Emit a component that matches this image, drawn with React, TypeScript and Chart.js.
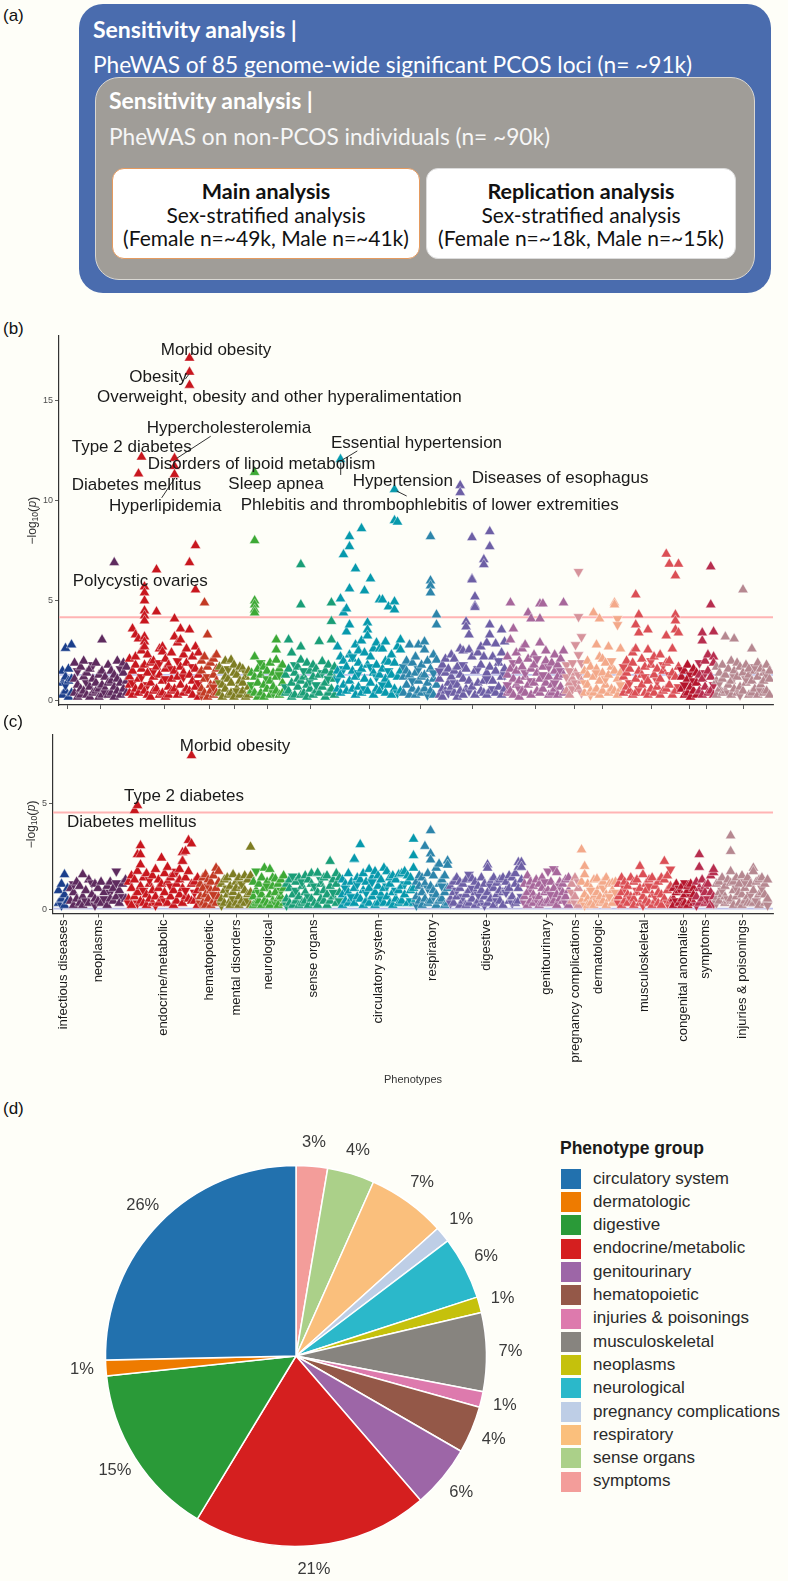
import React, { useEffect, useRef } from 'react';
import { Chart, registerables } from 'chart.js';

Chart.register(...registerables);

const FONT = '"Liberation Sans", Arial, Helvetica, sans-serif';
const BOX_FONT = 'Lato, "Open Sans", sans-serif';
const PAGE_BG = '#FEFEF8';

// ---------- Phenotype groups (Manhattan plots) ----------
const groupNames = [
  'infectious diseases', 'neoplasms', 'endocrine/metabolic', 'hematopoietic', 'mental disorders',
  'neurological', 'sense organs', 'circulatory system', 'respiratory', 'digestive', 'genitourinary',
  'pregnancy complications', 'dermatologic', 'musculoskeletal', 'congenital anomalies', 'symptoms',
  'injuries & poisonings',
];
const groupColors = [
  '#1B3F8B', '#5E2B5E', '#C8171E', '#C23A24', '#7E7D22', '#3DA935', '#1A9E77', '#0799AC', '#2D85AA',
  '#6D5FA5', '#A7679B', '#D6939B', '#F3A98A', '#DB4F55', '#B5152C', '#B72E4E', '#B68890',
];
// number of phenotypes (x-index width) per group in each analysis
const groupSizeB = [12, 55, 72, 18, 32, 34, 52, 66, 36, 68, 59, 18, 39, 58, 18, 17, 56];
const groupSizeC = [12, 58, 72, 21, 32, 33, 56, 74, 34, 74, 47, 10, 37, 55, 23, 20, 54];

// -log10(p) per phenotype (one entry per phenotype, several loci possible);
// negative value = inverse direction of effect (down-pointing triangle)
const infectiousB = [[0.3, 0.9, 1.5], [0.5, 1.2, 2.63, -0.8], [0.2, 1.0, 1.6], [0.4, 2.8, 1.1]];
const neoplasmsB = [[0.4, 1.1, 1.9], [0.2, 0.8, -1.5], [0.6, 1.7, 0.3], [1.2, 0.5, 2.0], [0.3, -0.9, 1.4], [0.7, 1.6, 0.2], [1.1, 0.4, -1.8], [0.5, 1.9, 0.9], [0.2, 1.3, 0.6], [3.05, 0.8, 1.5, 0.3], [0.6, 1.2, -0.4], [0.3, 1.8, 0.9], [1.0, 0.4, 1.5], [6.9, 0.7, 1.3, 0.2], [0.5, 2.0, 1.1], [0.9, 0.3, -1.6], [1.4, 0.6, 1.9], [0.4, 1.0, 1.7]];
const endocrineB = [[0.4, 1.2, 2.1, 0.8], [3.6, 1.5, 0.3, -0.9], [3.3, 1.8, 0.6, 2.2], [3.1, 11.33, 1.1, 0.4], [12.17, 2.5, 0.7, 1.6, -1.2], [5.7, 5.4, 5.0, 4.5, 4.25, 4.0, 3.2, 2.95, 2.7, 1.8, 0.5], [1.4, 0.3, 2.3, -0.8], [0.9, 1.9, 0.2], [1.2, 0.5, 2.0, -1.5], [6.55, 4.45, 1.7, 0.6], [0.3, 1.3, 2.6, -1.9], [2.7, 2.45, 1.0, 0.4], [1.6, 0.2, -1.1, 2.1], [0.7, 1.8, 0.3], [1.1, 2.4, 0.5, -1.6], [12.1, 11.7, 11.3, 4.1, 3.2, 1.5, 0.6], [2.9, 1.2, 0.3, -2.0], [3.6, 3.05, 1.7, 0.8], [2.3, 0.4, 1.4, -1.2], [1.9, 0.6, 2.6], [17.1, 16.4, 15.75, 6.9, 3.55, 1.3, 0.5], [1.0, 2.2, 0.3, -1.7], [7.75, 5.55, 2.7, 1.6, 0.7], [1.3, 0.2, 2.4, -0.9]];
const hematopoieticB = [[0.6, 1.5, -0.3, 2.0], [4.9, 2.2, 1.1, 0.4], [3.3, 1.7, 0.2, -1.2], [0.8, 1.9, 0.5], [1.3, 0.3, 2.1, -0.7], [2.3, 1.0, 0.4, 1.6]];
const mentalB = [[1.7, 0.4, -0.9], [0.8, 1.5, 0.2], [2.0, 0.6, 1.2], [0.3, 1.1, -1.6], [2.05, 0.9, 0.4], [1.4, 0.2, 1.8], [0.6, 1.3, -0.5], [1.0, 0.3, 1.7], [0.5, 1.6, 0.9], [1.2, 0.2, -1.4], [0.7, 1.5, 0.3]];
const neurologicalB = [[0.5, 1.4, -0.8], [11.4, 8.0, 5.0, 4.8, 4.55, 4.4, 2.2, 1.2, 0.4], [0.9, 1.6, 0.2], [1.3, 0.4, -1.9], [1.7, 0.8, 0.2], [0.6, 1.5, -1.1], [1.9, 0.3, 1.0], [0.7, 1.4, -0.4], [3.05, 2.55, 2.05, 1.2, 0.5], [1.6, 0.3, -1.3], [0.9, 1.8, 0.4]];
const senseB = [[0.4, 1.3, -0.7], [3.05, 1.6, 0.5], [2.4, 0.9, 0.2], [1.4, 0.3, -1.8], [0.7, 1.7, 1.1], [6.8, 4.8, 2.7, 2.05, 1.0, 0.3], [1.2, 0.4, -1.5], [0.8, 1.9, 0.2], [1.5, 0.6, -1.0], [0.3, 1.2, 1.8], [1.6, 0.5, -0.8], [2.97, 1.3, 0.4], [1.97, 0.7, -1.4], [0.9, 1.5, 0.2], [1.8, 0.4, -1.1], [4.9, 3.97, 3.05, 1.4, 0.6], [1.1, 0.3, 1.7]];
const circulatoryB = [[2.7, 1.5, 0.6, -1.1], [12.05, 5.1, 2.2, 1.3, 0.4], [7.3, 4.4, 2.0, 0.8, -1.6], [4.6, 3.45, 1.7, 0.5], [8.2, 7.7, 5.6, 3.8, 2.3, 1.0], [2.1, 0.6, 1.5, -2.2], [6.6, 2.8, 1.2, 0.3], [1.9, 0.7, 2.5, -1.4], [8.6, 3.0, 1.6, 0.4], [5.5, 2.4, 1.1, -0.6], [3.9, 3.55, 3.25, 1.8, 0.5], [6.1, 2.2, 0.9, -1.7], [2.6, 1.4, 0.3], [1.8, 0.6, 2.9, -1.2], [5.05, 2.6, 1.3, 0.5], [5.05, 2.6, 1.6, -0.8], [2.95, 1.1, 0.4, 2.0], [4.7, 1.95, 0.8, -1.5], [2.3, 1.3, 0.3], [10.55, 9.0, 4.95, 4.55, 1.9, 0.6], [8.93, 2.7, 1.2, -0.4], [3.05, 2.55, 1.5, 0.5]];
const respiratoryB = [[1.2, 0.4, -1.7], [2.0, 0.8, 1.5], [2.8, 1.3, 0.3], [0.6, 1.9, -1.0], [1.4, 0.3, 2.2], [2.8, 1.0, 0.5, -1.6], [1.8, 0.4, 1.2], [2.95, 2.55, 1.3, 0.6], [0.9, 2.0, -0.3], [8.2, 6.0, 5.75, 5.4, 1.6, 0.5], [1.1, 2.3, 0.3, -1.4], [4.3, 3.8, 2.05, 0.8]];
const digestiveB = [[1.1, 0.3, -1.5], [0.6, 1.8, 0.2], [1.4, 0.5, 2.1], [0.9, 1.6, -0.4], [2.3, 0.7, 1.2], [2.1, 0.4, 1.5, -0.9], [1.7, 0.8, 0.2], [10.75, 10.4, 2.6, 1.3, 0.5], [2.5, 1.1, 0.3, -1.8], [3.95, 3.7, 1.6, 0.6], [3.3, 2.55, 1.0, -0.5], [8.15, 6.1, 6.05, 2.2, 0.7], [5.2, 4.75, 4.67, 1.5, 0.3], [2.4, 0.9, -1.6], [1.8, 0.5, 2.7], [7.05, 6.8, 2.2, 1.0, 0.4], [1.4, 2.9, 0.3, -1.1], [8.45, 7.7, 3.8, 3.3, 1.7, 0.5], [2.2, 1.0, -0.6], [2.85, 1.5, 0.4], [1.9, 0.7, -2.0], [3.55, 2.4, 1.2, 0.3], [2.95, 1.6, 0.6, -1.3]];
const genitourinaryB = [[1.3, 0.4, 2.2, -0.8], [4.9, 3.05, 1.6, 0.5], [3.6, 1.1, 0.3, -1.9], [2.4, 0.8, 1.5], [1.0, 2.0, 0.2, -0.6], [1.7, 0.5, 2.6], [2.8, 1.2, 0.4, -1.4], [4.4, 2.1, 0.8], [4.1, 1.6, 0.3, -1.0], [2.3, 0.9, 1.8], [0.5, 1.4, -2.1], [4.85, 4.1, 2.9, 1.1, 0.4], [4.85, 1.7, 0.6, -1.3], [2.0, 0.9, 2.5], [1.2, 0.3, -1.7], [0.8, 1.9, 0.4], [1.5, 2.3, 0.6, -0.9], [0.3, 1.2, 1.8], [2.1, 0.7, -1.5], [4.9, 2.5, 1.3, 0.4]];
const pregnancyB = [[-1.2, 0.5, -1.8], [0.9, -1.5, 0.3], [-1.9, 1.1, -0.6], [-2.8, 1.4, -0.9], [-6.45, -4.2, -2.3, -1.3, 0.6], [-3.2, -1.9, 1.0, -0.4]];
const dermatologicB = [[1.5, 0.4, -0.9], [2.0, 0.8, 1.3], [0.5, 1.7, -0.3], [4.4, 1.2, 0.4], [2.8, 1.6, 0.6, -1.4], [4.1, 2.2, 1.0, 0.3], [1.4, 0.5, 2.1], [0.8, 1.9, -1.1], [2.7, 1.3, 0.4], [1.7, 0.6, -2.0], [4.9, 4.8, 1.5, 0.5], [-4.1, -3.8, 1.1, 0.3], [2.6, 1.4, 0.6, -0.8]];
const musculoskeletalB = [[1.2, 0.4, -1.7], [2.0, 0.7, 1.4], [0.5, 1.6, -0.9], [1.9, 0.3, 2.4], [5.3, 3.8, 2.6, 1.1, 0.4], [4.3, 3.4, 1.5, -0.6], [2.1, 0.8, 1.3], [0.4, 1.7, -1.2], [3.55, 2.55, 1.0, 0.3], [1.8, 0.6, -2.0], [1.3, 2.2, 0.4], [0.7, 1.6, -1.0], [2.3, 1.1, 0.3], [1.5, 0.5, -1.8], [7.33, 3.25, 1.9, 0.6], [6.83, 2.0, 0.8, -1.3], [1.4, 0.3, 2.6], [6.25, 4.3, 4.0, 3.55, 1.2, 0.5], [6.83, 3.4, 1.7, -0.7]];
const congenitalB = [[-1.55, 0.6, 1.2], [0.3, 1.5, -0.8], [1.1, 0.4, 1.8], [-1.3, 0.7, 0.2], [1.6, 0.5, -1.0], [0.9, 1.4, 0.3]];
const symptomsB = [[1.3, 0.5, -1.9], [3.4, 3.0, 1.1, 0.3], [2.0, 0.7, -1.4], [1.5, 0.4, 2.3], [6.7, 4.8, 1.2, 0.5], [3.45, 2.2, 1.9, -0.8, 0.3]];
const injuriesB = [[1.0, 0.3, 1.7], [0.6, 1.4, -0.9], [1.8, 0.4, 1.1], [3.2, 1.3, 0.5], [0.8, 1.6, -0.4], [2.0, 1.0, 0.3], [3.1, 1.5, 0.6, -1.2], [0.4, 1.2, 1.9], [1.7, 0.7, -0.3], [5.55, 1.4, 0.5], [0.9, 1.8, -1.1], [1.3, 0.3, 1.6], [2.6, 1.0, 0.4], [0.6, 1.5, -1.7], [1.2, 0.3, 1.9], [0.8, 1.6, -0.5], [1.4, 0.4, 1.0], [0.5, 1.8, -1.3], [1.1, 0.3, 1.5]];

const infectiousC = [[0.3, 0.9], [0.5, 1.2, -0.2], [1.65, 0.7, 0.2], [0.4, 1.0]];
const neoplasmsC = [[0.4, 1.0], [0.8, 0.2, -1.2], [1.3, 0.5], [0.3, 1.1], [1.65, 0.6, 0.2], [0.9, -0.4], [1.4, 0.3], [-1.25, 0.7], [0.5, 1.2, -0.2], [1.0, 0.4], [0.3, 1.3], [0.8, -0.5], [1.1, 0.2], [-0.8, 0.5, 1.3], [0.4, 1.0], [-1.81, -1.25, 0.6], [0.9, 0.3], [1.2, -0.6], [0.5, 1.4]];
const endocrineC = [[0.5, 1.3, -0.3], [1.0, 0.2, 1.6], [4.68, 1.4, 0.6], [4.92, 2.6, 1.81, 0.8, -0.3], [3.02, 2.6, 2.12, 1.1, 0.4], [1.5, 0.3, -0.9], [0.7, 1.7, 0.2], [1.2, 0.5, -1.4], [0.3, 1.6, 0.9], [1.9, 0.6, -0.2], [1.0, 0.3, 1.4], [2.44, 1.2, 0.5], [0.8, 1.7, -0.4], [1.3, 0.3, 2.0], [0.6, 1.5, -1.1], [1.65, 0.9, 0.2], [1.2, 0.4, -1.8], [1.9, 0.7, 1.4], [2.7, 2.3, 2.28, 1.0, 0.3], [2.75, 1.5, 0.6, -0.9], [3.27, 1.8, 0.5], [7.28, 3.11, 1.2, 0.4], [1.3, 0.4, -0.8], [0.9, 1.5, 0.2]];
const hematopoieticC = [[0.6, 1.2, -0.3], [1.0, 0.3, 1.5], [1.65, 0.7, 0.2], [1.4, 0.5, -1.1], [0.9, 1.3, 0.2], [0.4, 1.6, -0.7], [1.96, 1.0, 0.3], [1.81, 0.6, 1.3]];
const mentalC = [[0.5, 1.2, -0.2], [1.4, 0.3, 0.9], [0.7, 1.5, -1.0], [1.1, 0.4, 0.2], [1.65, 0.8, -0.5], [0.3, 1.3, 1.0], [1.5, 0.6, 0.2], [0.4, 1.1, -1.2], [1.6, 0.9, 0.3], [0.7, 1.4, -0.4], [2.96, 1.6, 0.8, 0.2]];
const neurologicalC = [[0.6, 1.3, 0.2], [-1.81, 0.9, 0.3], [1.2, 0.4, -0.8], [0.7, 1.5, 0.2], [1.96, 1.0, 0.4], [0.3, 1.3, -1.1], [1.9, 0.7, 0.2], [1.1, 0.4, 1.5], [1.45, 0.8, -0.3], [0.5, 1.2, 0.2], [1.4, 0.6, -0.9], [0.3, 1.0, 1.6]];
const senseC = [[0.5, 1.2, -0.2], [1.0, 0.3, 1.4], [-1.57, 0.7, 0.2], [1.3, 0.4, -0.9], [0.6, 1.5, 0.2], [1.1, 0.3, -1.3], [0.8, 1.6, 0.4], [1.4, 0.2, -0.6], [0.5, 1.2, 1.7], [1.0, 0.3, -1.1], [1.73, 0.8, 0.2], [1.2, 0.5, -1.4], [0.4, 1.5, 0.9], [1.6, 0.7, 0.2], [2.28, 1.1, 0.4], [0.6, 1.4, -0.8], [1.2, 0.3, 1.7], [0.8, 1.5, -0.4]];
const circulatoryC = [[0.7, 1.4, 0.2], [1.2, 0.4, -1.0], [1.7, 0.8, 0.3], [0.5, 1.3, -0.6], [2.36, 2.39, 1.0, 0.3], [1.5, 0.6, -1.2], [3.07, 1.4, 0.5], [0.9, 1.7, 0.2], [1.3, 0.4, -0.8], [1.9, 1.0, 0.3], [0.6, 1.5, -1.3], [1.8, 0.8, 0.2], [1.1, 0.3, 1.6], [0.7, 1.4, -0.5], [1.96, 1.0, 0.3], [1.8, 0.6, -1.1], [1.2, 0.3, 1.5], [0.8, 1.6, 0.2], [1.4, 0.5, -0.9], [1.65, 0.9, 0.3], [1.1, 1.7, 0.4], [1.8, 0.7, -1.2], [1.3, 0.3, 1.6], [0.9, 1.5, -0.4], [3.33, 2.55, 1.96, 1.0, 0.3]];
const respiratoryC = [[0.6, 1.3, -0.2], [1.1, 0.4, 1.6], [0.8, 1.5, 0.2], [2.99, 1.2, 0.5], [1.7, 0.3, -1.0], [3.73, 2.64, 2.35, 1.1, 0.4], [0.9, 1.6, -0.6], [1.96, 0.7, 0.2], [2.15, 1.2, 0.4], [0.5, 1.4, -1.1], [1.6, 0.8, 0.2], [2.3, 2.1, 1.0, 0.3]];
const digestiveC = [[0.5, 1.1, -0.3], [1.3, 0.3, 0.8], [0.6, 1.5, -0.9], [1.0, 0.2, 1.3], [0.4, 1.2, -0.6], [1.4, 0.7, 0.2], [-1.65, 0.9, 0.3], [1.45, 0.5, -1.0], [0.8, 1.3, 0.2], [1.1, 0.4, -0.7], [0.3, 1.5, 0.9], [1.2, 0.6, -0.2], [2.12, 1.96, 0.8, 0.3], [0.5, 1.3, -1.1], [1.0, 0.2, 1.5], [1.25, 0.7, -0.4], [0.4, 1.4, 0.9], [1.5, 0.8, 0.2], [0.9, 1.3, -0.8], [1.6, 0.4, 1.0], [0.6, 1.5, -0.3], [1.2, 0.3, 1.7], [2.23, 2.0, 1.0, 0.4], [2.23, 2.0, 1.4, -0.6]];
const genitourinaryC = [[0.6, 1.2, -0.3], [1.6, 0.8, 0.2], [0.4, 1.3, -1.0], [1.1, 0.3, 0.7], [0.5, 1.4, -0.5], [1.2, 0.6, 0.2], [0.3, 1.0, 1.5], [0.8, -1.3, 0.3], [-1.81, 0.9, 0.4], [1.3, 0.3, -0.7], [-1.92, 1.0, 0.4], [1.75, 0.7, 0.2], [0.5, 1.3, -1.1], [1.2, 0.4, 0.8], [1.4, 0.6, -0.3], [0.9, 1.5, 0.2]];
const pregnancyC = [[1.2, 0.4, -0.8], [0.6, 1.5, -0.3], [1.0, 0.2, -1.3]];
const dermatologicC = [[2.83, 1.3, 0.4], [2.04, 1.65, 0.7, -0.2], [0.5, 1.2, 0.2], [1.0, 0.3, -0.9], [0.6, 1.4, 0.2], [1.45, 0.8, -0.4], [0.3, 1.1, 0.6], [1.3, 0.4, -1.0], [0.7, 1.5, 0.2], [1.2, 0.5, -0.6], [1.25, 0.9, 0.3], [0.5, 1.3, -0.8]];
const musculoskeletalC = [[0.6, 1.2, -0.3], [1.5, 0.8, 0.2], [0.4, 1.3, -1.0], [1.1, 0.3, 0.7], [0.6, 1.5, -0.5], [1.3, 0.5, 0.2], [0.8, 1.4, -0.9], [2.04, 1.0, 0.3], [1.65, 0.6, -0.2], [0.4, 1.2, 0.9], [1.4, 0.3, -1.1], [0.7, 1.5, 0.2], [1.1, 0.4, -0.6], [0.3, 1.3, 0.8], [1.5, 0.7, 0.2], [2.28, 1.4, 0.5], [0.9, 1.6, -0.3], [-1.9, 1.1, 0.4]];
const congenitalC = [[0.5, 1.0, 0.2], [0.8, -0.4, 1.2], [0.3, 0.9, -1.0], [1.1, 0.5, 0.2], [-1.25, 0.7, 0.3], [0.9, 0.2, 1.1], [0.4, 1.2, -0.6], [1.0, 0.3, 0.7]];
const symptomsC = [[0.6, 1.3, -0.2], [2.6, 2.0, 1.0, 0.3], [0.5, 1.4, -0.9], [1.1, 0.3, 0.8], [0.4, 1.2, -0.5], [1.6, 0.8, 0.2], [1.75, 1.9, 0.6, -0.3]];
const injuriesC = [[0.5, 1.2, -0.3], [1.3, 0.4, 0.8], [0.7, 1.5, -0.9], [1.1, 0.3, 0.6], [0.4, 1.4, -0.5], [3.49, 2.75, 1.8, 1.25, 0.5], [0.9, 1.3, 0.2], [1.5, 0.6, -1.0], [0.3, 1.2, 0.8], [1.6, 0.7, 0.2], [1.0, 0.4, -1.3], [0.6, 1.5, 0.3], [1.2, 0.3, -0.7], [1.96, 1.8, 0.9, 0.3], [0.5, 1.3, -0.4], [1.4, 0.7, 0.2], [0.8, 1.5, -1.0], [1.2, 0.3, 0.7], [0.5, 1.4, -0.2]];

// labelled phenotypes: [text, x index, -log10(p), align]
const labelsB: any[] = [
  ['Morbid obesity', 157, 17.5, 'center'],
  ['Obesity', 128, 16.15, 'right'],
  ['Overweight, obesity and other hyperalimentation', 38, 15.15, 'left'],
  ['Hypercholesterolemia', 87.7, 13.6, 'left'],
  ['Type 2 diabetes', 12.7, 12.65, 'left'],
  ['Essential hypertension', 272, 12.85, 'left'],
  ['Disorders of lipoid metabolism', 88.7, 11.8, 'left'],
  ['Diseases of esophagus', 412.7, 11.1, 'left'],
  ['Hypertension', 293.7, 10.97, 'left'],
  ['Diabetes mellitus', 12.7, 10.77, 'left'],
  ['Sleep apnea', 169.3, 10.8, 'left'],
  ['Hyperlipidemia', 50, 9.72, 'left'],
  ['Phlebitis and thrombophlebitis of lower extremities', 181.7, 9.77, 'left'],
  ['Polycystic ovaries', 13.7, 5.97, 'left'],
];
const segmentsB = [
  [126.3, 16.05, 130, 16.3],
  [151.7, 13.2, 117.7, 12.1],
  [102.7, 10.13, 116, 11.13],
  [298.3, 12.47, 281.7, 11.97],
  [281.7, 11.88, 281.7, 11.27],
  [337.7, 10.47, 347.7, 10.22],
];
const labelsC: any[] = [
  ['Morbid obesity', 182, 7.7, 'center'],
  ['Type 2 diabetes', 131, 5.34, 'center'],
  ['Diabetes mellitus', 78.7, 4.12, 'center'],
];

// ---------- Pie (panel d) ----------
const pieGroups = ['circulatory system', 'dermatologic', 'digestive', 'endocrine/metabolic', 'genitourinary', 'hematopoietic', 'injuries & poisonings', 'musculoskeletal', 'neoplasms', 'neurological', 'pregnancy complications', 'respiratory', 'sense organs', 'symptoms'];
const pieCounts = [19, 1, 11, 15, 4, 3, 1, 5, 1, 4, 1, 5, 3, 2];
const pieLabels = ['26%', '1%', '15%', '21%', '6%', '4%', '1%', '7%', '1%', '6%', '1%', '7%', '4%', '3%'];
const pieColors = ['#2271AE', '#EE7B00', '#2A9A38', '#D51F1F', '#9D66A7', '#945848', '#DD7AAD', '#87847F', '#C5C10C', '#2BB8CA', '#BECEE6', '#FABF7C', '#ABD089', '#F39D9A'];

// ---------- helpers ----------
function buildPoints(slots: any[], start: number, size: number) {
  const n = slots.length;
  const pts: any[] = [];
  slots.forEach((s, i) => {
    const x = start + ((i + 0.5) * size) / n;
    (Array.isArray(s) ? s : [s]).forEach((v: number) => pts.push({ x, y: Math.abs(v), r: v < 0 ? 180 : 0 }));
  });
  return pts;
}

function groupStarts(sizes: number[], first: number) {
  const starts: number[] = [];
  let s = first;
  sizes.forEach((w) => { starts.push(s); s += w; });
  return starts;
}

function makeManhattan(canvas: HTMLCanvasElement, cfg: any) {
  const starts = groupStarts(cfg.sizes, cfg.first);
  const centers = starts.map((s, i) => s + cfg.sizes[i] / 2);
  const n = groupNames.length;
  const datasets = groupNames.map((name, gi) => ({
    label: name,
    data: buildPoints(cfg.groups[gi], starts[gi], cfg.sizes[gi]),
    backgroundColor: groupColors[gi],
    borderColor: 'rgba(255,255,255,0.7)',
    borderWidth: 0.6,
    pointStyle: 'triangle',
    pointRadius: 6,
    pointRotation: (c: any) => (c.raw && c.raw.r) || 0,
    order: n - gi,
  }));

  const linesPlugin = {
    id: 'thresholds',
    beforeDatasetsDraw(chart: any) {
      const { ctx, chartArea, scales } = chart;
      ctx.save();
      const draw = (v: number, color: string, w: number) => {
        const y = scales.y.getPixelForValue(v);
        ctx.strokeStyle = color; ctx.lineWidth = w;
        ctx.beginPath(); ctx.moveTo(chartArea.left, y); ctx.lineTo(chartArea.right, y); ctx.stroke();
      };
      draw(cfg.blueLine, '#BFC2EC', 1.6);
      draw(cfg.redLine, '#FFB4B4', 2);
      ctx.restore();
    },
  };

  const textPlugin = {
    id: 'annot',
    afterDraw(chart: any) {
      const { ctx, chartArea, scales } = chart;
      const xs = scales.x, ys = scales.y;
      ctx.save();
      ctx.strokeStyle = '#333'; ctx.lineWidth = 1;
      cfg.segments.forEach((s: number[]) => {
        ctx.beginPath();
        ctx.moveTo(xs.getPixelForValue(s[0]), ys.getPixelForValue(s[1]));
        ctx.lineTo(xs.getPixelForValue(s[2]), ys.getPixelForValue(s[3]));
        ctx.stroke();
      });
      ctx.font = `17px ${FONT}`;
      ctx.fillStyle = '#1a1a1a';
      ctx.textBaseline = 'middle';
      cfg.labels.forEach((l: any[]) => {
        ctx.textAlign = l[3];
        ctx.fillText(l[0], xs.getPixelForValue(l[1]), ys.getPixelForValue(l[2]));
      });
      const cy = (chartArea.top + chartArea.bottom) / 2;
      ctx.translate(cfg.yTitleX, cy);
      ctx.rotate(-Math.PI / 2);
      ctx.fillStyle = '#333';
      ctx.textAlign = 'left';
      const parts: any[] = [['\u2212log', `12px ${FONT}`, 0], ['10', `8.5px ${FONT}`, 3], ['(', `13px ${FONT}`, 0], ['p', `italic 12px ${FONT}`, 0], [')', `13px ${FONT}`, 0]];
      let total = 0;
      parts.forEach((p) => { ctx.font = p[1]; total += ctx.measureText(p[0]).width; });
      let px = -total / 2;
      parts.forEach((p) => { ctx.font = p[1]; ctx.fillText(p[0], px, p[2]); px += ctx.measureText(p[0]).width; });
      ctx.restore();

      if (cfg.showXLabels) {
        ctx.save();
        ctx.font = `13px ${FONT}`;
        ctx.fillStyle = '#1a1a1a';
        centers.forEach((c, i) => {
          ctx.save();
          ctx.translate(xs.getPixelForValue(c), chartArea.bottom + 6);
          ctx.rotate(-Math.PI / 2);
          ctx.textAlign = 'right';
          ctx.textBaseline = 'middle';
          ctx.fillText(groupNames[i], 0, 0);
          ctx.restore();
        });
        ctx.font = `11px ${FONT}`;
        ctx.fillStyle = '#333';
        ctx.textAlign = 'center';
        ctx.textBaseline = 'middle';
        ctx.fillText('Phenotypes', (chartArea.left + chartArea.right) / 2, cfg.titleY);
        ctx.restore();
      }
    },
  };

  const axisGrid = { display: true, drawOnChartArea: false, drawTicks: true, tickLength: 4, color: '#333', lineWidth: 0.8 };
  const axisBorder = { display: true, color: '#333', width: 1.2 };

  return new Chart(canvas, {
    type: 'scatter',
    data: { datasets: datasets as any },
    options: {
      responsive: false,
      animation: false,
      events: [],
      layout: { padding: { top: cfg.padTop, right: 15, left: 0, bottom: 0 } },
      plugins: { legend: { display: false }, tooltip: { enabled: false } },
      scales: {
        x: {
          type: 'linear', min: 0, max: cfg.xMax,
          afterBuildTicks: (s: any) => { s.ticks = centers.map((v) => ({ value: v })); },
          afterFit: (s: any) => { s.height = cfg.xAxisHeight; },
          ticks: { autoSkip: false, callback: () => '', padding: 0, maxRotation: 0 },
          grid: axisGrid, border: axisBorder,
        },
        y: {
          type: 'linear', min: cfg.yMin, max: cfg.yMax,
          afterBuildTicks: (s: any) => { s.ticks = cfg.yTicks.map((v: number) => ({ value: v })); },
          afterFit: (s: any) => { s.width = cfg.yAxisWidth; },
          ticks: { font: { size: 9, family: FONT }, color: '#4d4d4d', padding: 2 },
          grid: axisGrid, border: axisBorder,
        },
      },
    } as any,
    plugins: [linesPlugin, textPlugin],
  });
}

function makePie(canvas: HTMLCanvasElement) {
  const data = [...pieCounts].reverse();
  const colors = [...pieColors].reverse();
  const labels = [...pieLabels].reverse();
  const labelPlugin = {
    id: 'pielabels',
    afterDraw(chart: any) {
      const { ctx } = chart;
      const meta = chart.getDatasetMeta(0);
      ctx.save();
      ctx.font = `16.5px ${FONT}`;
      ctx.fillStyle = '#3a3a3a';
      ctx.textAlign = 'center';
      ctx.textBaseline = 'middle';
      meta.data.forEach((arc: any, i: number) => {
        const p = arc.getProps(['x', 'y', 'startAngle', 'endAngle', 'outerRadius'], true);
        const mid = (p.startAngle + p.endAngle) / 2;
        const r = p.outerRadius + 24;
        ctx.fillText(labels[i], p.x + Math.cos(mid) * r, p.y + Math.sin(mid) * r);
      });
      ctx.restore();
    },
  };
  return new Chart(canvas, {
    type: 'pie',
    data: { labels: [...pieGroups].reverse(), datasets: [{ data, backgroundColor: colors, borderColor: '#ffffff', borderWidth: 1.5 }] },
    options: {
      responsive: false,
      animation: false,
      events: [],
      layout: { padding: { top: 43.75, bottom: 43.75, left: 58.75, right: 58.75 } },
      plugins: { legend: { display: false }, tooltip: { enabled: false } },
    } as any,
    plugins: [labelPlugin],
  });
}

const cfgB = {
  groups: [infectiousB, neoplasmsB, endocrineB, hematopoieticB, mentalB, neurologicalB, senseB, circulatoryB, respiratoryB, digestiveB, genitourinaryB, pregnancyB, dermatologicB, musculoskeletalB, congenitalB, symptomsB, injuriesB],
  sizes: groupSizeB, first: 2, xMax: 714,
  yMin: -0.2, yMax: 18.2, yTicks: [0, 5, 10, 15],
  padTop: 11, yAxisWidth: 59, xAxisHeight: 15,
  redLine: 4.17, blueLine: 1.3,
  labels: labelsB, segments: segmentsB, showXLabels: false, yTitleX: 33, titleY: 0,
};
const cfgC = {
  groups: [infectiousC, neoplasmsC, endocrineC, hematopoieticC, mentalC, neurologicalC, senseC, circulatoryC, respiratoryC, digestiveC, genitourinaryC, pregnancyC, dermatologicC, musculoskeletalC, congenitalC, symptomsC, injuriesC],
  sizes: groupSizeC, first: 4, xMax: 720,
  yMin: -0.19, yMax: 8.25, yTicks: [0, 5],
  padTop: 10, yAxisWidth: 53, xAxisHeight: 176.5,
  redLine: 4.58, blueLine: 0.04,
  labels: labelsC, segments: [], showXLabels: true, yTitleX: 32, titleY: 355,
};

function Txt(props: any) {
  const { x, cy, size, bold, color, children, width, align, family } = props;
  return (
    <div style={{
      position: 'absolute', left: x, top: cy - size * 0.6, width: width,
      fontSize: size, lineHeight: `${size * 1.2}px`, fontWeight: bold ? 700 : 400,
      color, whiteSpace: 'nowrap', textAlign: align || 'left', fontFamily: family || FONT,
    }}>{children}</div>
  );
}

export default function App() {
  const bRef = useRef<HTMLCanvasElement>(null);
  const cRef = useRef<HTMLCanvasElement>(null);
  const dRef = useRef<HTMLCanvasElement>(null);

  useEffect(() => {
    document.body.style.margin = '0';
    document.body.style.background = PAGE_BG;
    Chart.defaults.font.family = FONT;
    const charts = [
      makeManhattan(bRef.current as HTMLCanvasElement, cfgB),
      makeManhattan(cRef.current as HTMLCanvasElement, cfgC),
      makePie(dRef.current as HTMLCanvasElement),
    ];
    return () => charts.forEach((c) => c.destroy());
  }, []);

  return (
    <div style={{ position: 'absolute', left: 0, top: 0, width: 788, height: 1581, background: PAGE_BG, overflow: 'hidden', fontFamily: FONT }}>
      {/* panel a */}
      <Txt x={3} cy={16} size={17} color="#111">(a)</Txt>
      <div style={{ position: 'absolute', left: 79, top: 4, width: 692, height: 289, background: '#4A6CAE', borderRadius: 24 }} />
      <Txt x={93} cy={30} size={23} bold color="#fff" family={BOX_FONT}>Sensitivity analysis |</Txt>
      <Txt x={93} cy={65} size={22.7} color="#fff" family={BOX_FONT}>PheWAS of 85 genome-wide significant PCOS loci (n= ~91k)</Txt>
      <div style={{ position: 'absolute', left: 95, top: 77, width: 660, height: 203, boxSizing: 'border-box', background: '#A09D98', border: '1px solid #D9D7D2', borderRadius: 24 }} />
      <Txt x={109} cy={101} size={23} bold color="#fff" family={BOX_FONT}>Sensitivity analysis |</Txt>
      <Txt x={109} cy={137} size={22.7} color="#F6F6F6" family={BOX_FONT}>PheWAS on non-PCOS individuals (n= ~90k)</Txt>
      <div style={{ position: 'absolute', left: 112, top: 168, width: 308, height: 91, boxSizing: 'border-box', background: '#fff', border: '1px solid #E59A5F', borderRadius: 12 }} />
      <div style={{ position: 'absolute', left: 426, top: 168, width: 310, height: 91, boxSizing: 'border-box', background: '#fff', border: '1px solid #DCDCDC', borderRadius: 12 }} />
      <Txt x={112} width={308} align="center" cy={192} size={21.5} bold color="#111" family={BOX_FONT}>Main analysis</Txt>
      <Txt x={112} width={308} align="center" cy={215} size={21} color="#111" family={BOX_FONT}>Sex-stratified analysis</Txt>
      <Txt x={112} width={308} align="center" cy={238} size={21} color="#111" family={BOX_FONT}>(Female n=~49k, Male n=~41k)</Txt>
      <Txt x={426} width={310} align="center" cy={192} size={21.5} bold color="#111" family={BOX_FONT}>Replication analysis</Txt>
      <Txt x={426} width={310} align="center" cy={215} size={21} color="#111" family={BOX_FONT}>Sex-stratified analysis</Txt>
      <Txt x={426} width={310} align="center" cy={238} size={21} color="#111" family={BOX_FONT}>(Female n=~18k, Male n=~15k)</Txt>

      {/* panel b */}
      <Txt x={3} cy={329} size={17} color="#111">(b)</Txt>
      <canvas ref={bRef} width={788} height={395} style={{ position: 'absolute', left: 0, top: 325 }} />

      {/* panel c */}
      <Txt x={3} cy={722} size={17} color="#111">(c)</Txt>
      <canvas ref={cRef} width={788} height={365} style={{ position: 'absolute', left: 0, top: 725 }} />

      {/* panel d */}
      <Txt x={3} cy={1109} size={17} color="#111">(d)</Txt>
      <canvas ref={dRef} width={500} height={470} style={{ position: 'absolute', left: 46, top: 1121 }} />
      <Txt x={560} cy={1148} size={17.5} bold color="#1a1a1a">Phenotype group</Txt>
      {pieGroups.map((g, i) => (
        <React.Fragment key={g}>
          <div style={{ position: 'absolute', left: 561, top: 1168.7 + i * 23.3, width: 20, height: 20, background: pieColors[i] }} />
          <Txt x={593} cy={1178.7 + i * 23.3} size={17} color="#2a2a2a">{g}</Txt>
        </React.Fragment>
      ))}
    </div>
  );
}
